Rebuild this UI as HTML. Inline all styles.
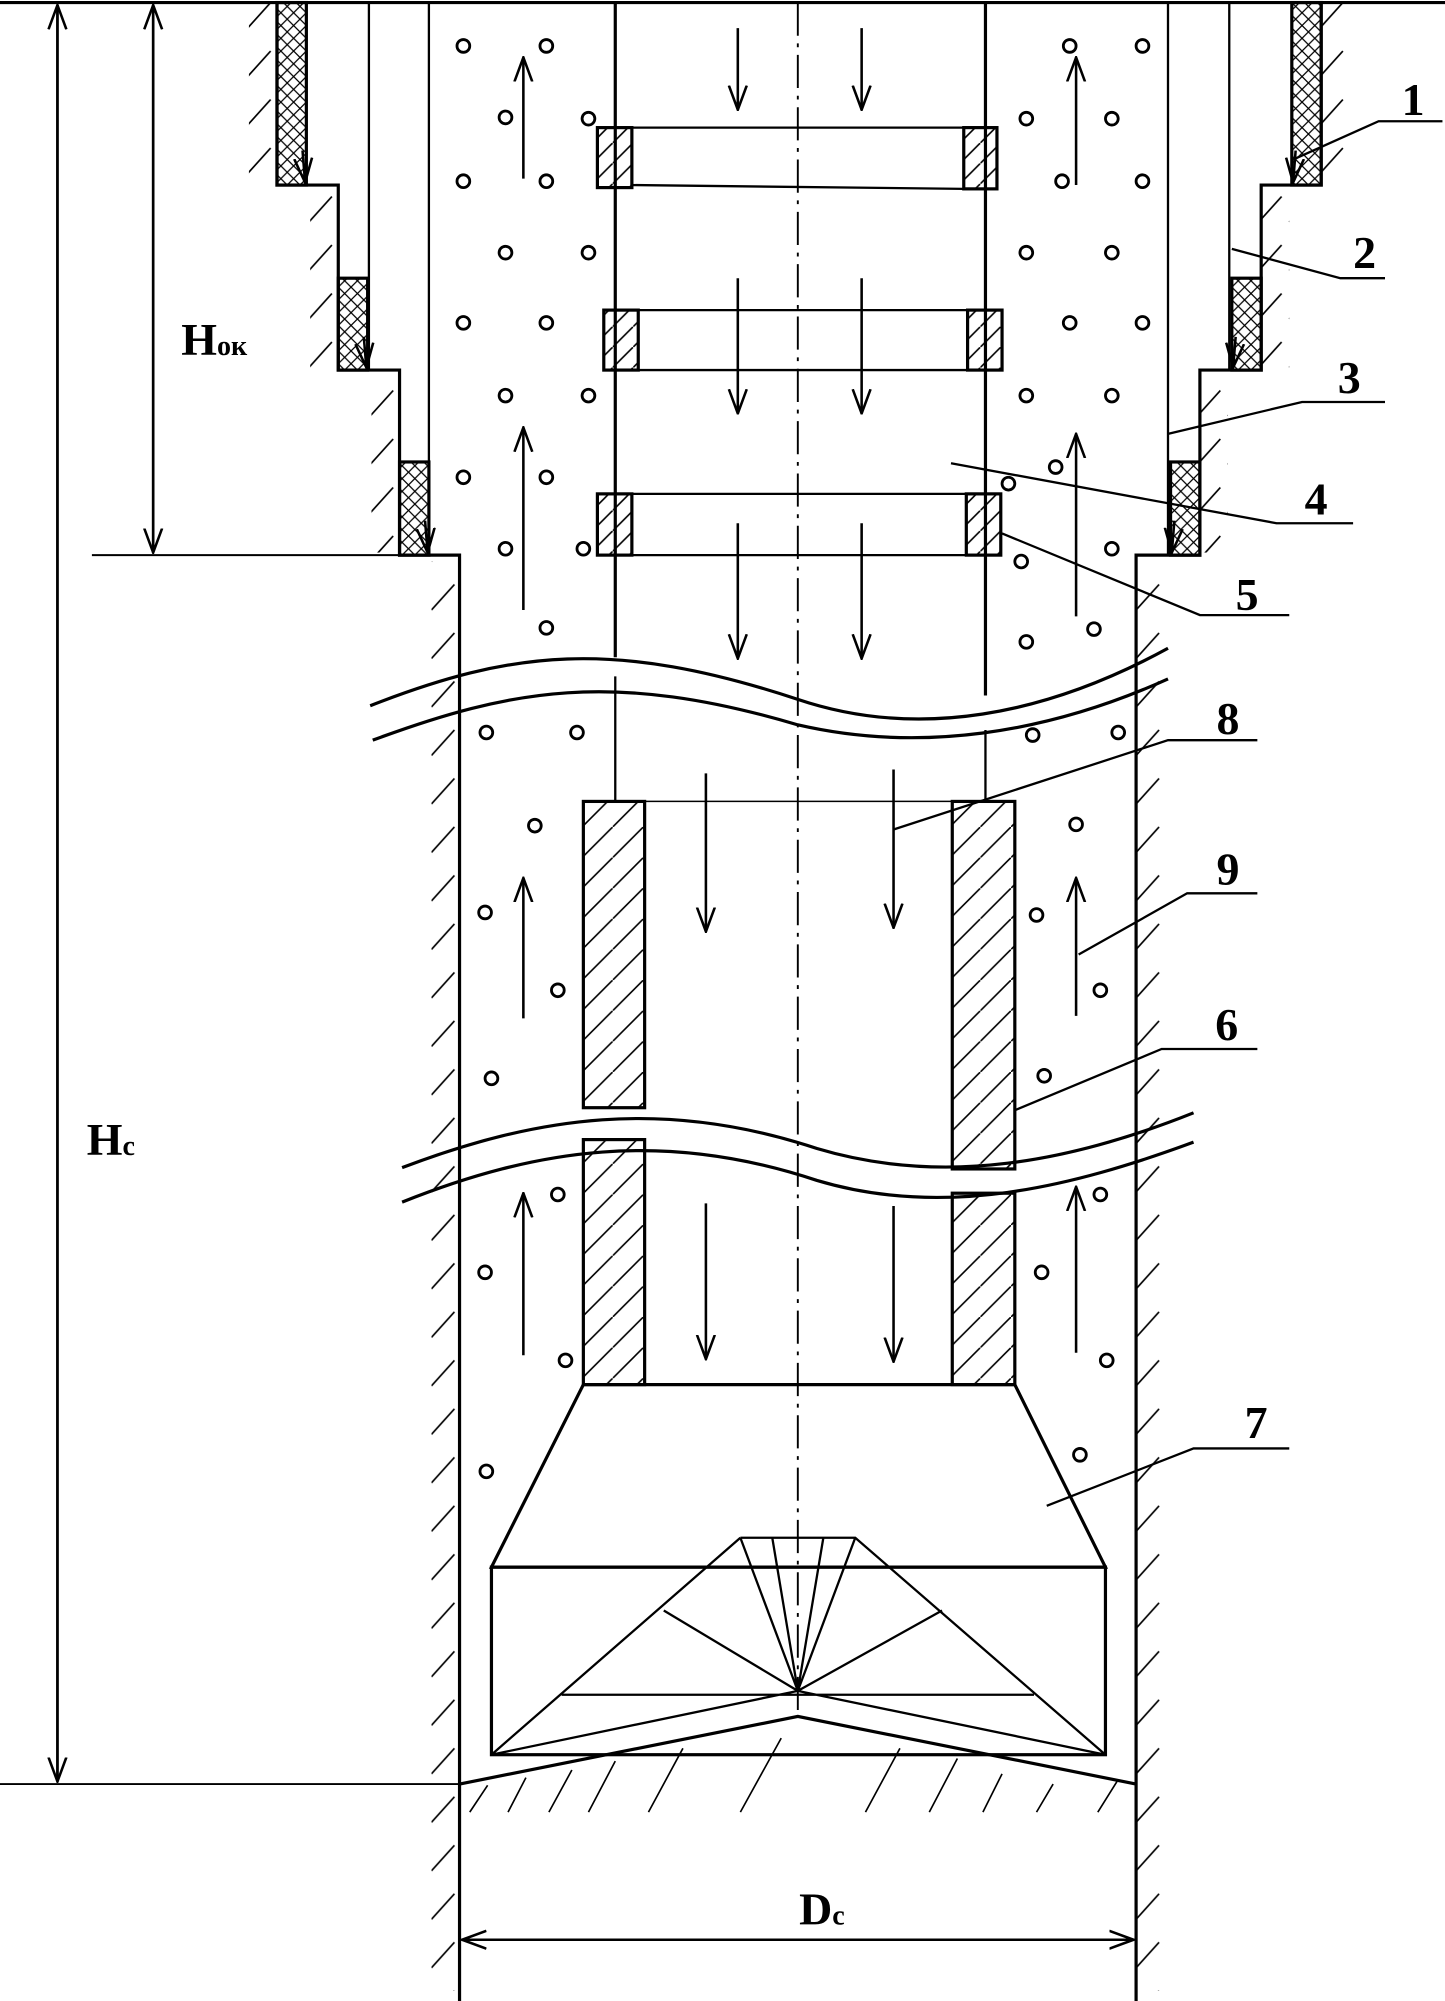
<!DOCTYPE html>
<html><head><meta charset="utf-8"><style>
html,body{margin:0;padding:0;background:#fff}
svg{display:block}
text{font-family:"Liberation Serif",serif;font-weight:bold;fill:#000}
</style></head><body>
<svg width="1445" height="2001" viewBox="0 0 1132 1568" preserveAspectRatio="none" xmlns="http://www.w3.org/2000/svg">
<defs>
<pattern id="h" patternUnits="userSpaceOnUse" width="16" height="16"><path d="M-2,18 L18,-2" stroke="#000" stroke-width="1.3"/></pattern>
<pattern id="hc" patternUnits="userSpaceOnUse" width="24" height="24"><path d="M-3,27 L27,-3" stroke="#000" stroke-width="1.3"/></pattern>
<pattern id="x" patternUnits="userSpaceOnUse" width="10" height="10"><path d="M0,10 L10,0 M0,0 L10,10" stroke="#000" stroke-width="1"/></pattern>
<pattern id="wl" patternUnits="userSpaceOnUse" width="24" height="38"><path d="M2,22 L20,2" stroke="#000" stroke-width="1.3"/></pattern>
<marker id="a" viewBox="0 0 20 20" refX="19" refY="10" markerWidth="20" markerHeight="20" orient="auto" markerUnits="userSpaceOnUse"><path d="M0,3 L19,10 L0,17" fill="none" stroke="#000" stroke-width="2"/></marker>
</defs>
<g fill="none" stroke="#000" stroke-width="2.5">
<line x1="0" y1="2" x2="1132" y2="2"/>
<rect x="338" y="440" width="22" height="1120" fill="url(#wl)" stroke="none"/>
<rect x="890" y="440" width="22" height="1120" fill="url(#wl)" stroke="none"/>
<rect x="195" y="2" width="22" height="140" fill="url(#wl)" stroke="none"/>
<rect x="243" y="150" width="22" height="138" fill="url(#wl)" stroke="none"/>
<rect x="291" y="295" width="22" height="138" fill="url(#wl)" stroke="none"/>
<rect x="1035" y="2" width="22" height="140" fill="url(#wl)" stroke="none"/>
<rect x="988" y="150" width="22" height="138" fill="url(#wl)" stroke="none"/>
<rect x="940" y="295" width="22" height="138" fill="url(#wl)" stroke="none"/>
<g stroke-width="1.3">
<path d="M368,1420 L382,1399 M398,1420 L412,1393 M430,1420 L448,1387 M461,1420 L482,1380 M508,1420 L535,1370 M580,1420 L612,1362 M678,1420 L705,1370 M728,1420 L750,1378 M770,1420 L785,1390 M812,1420 L825,1398 M860,1420 L875,1396"/>
</g>
<path d="M217,2 V145 H265 V290 H313 V435 H360 V1568"/>
<path d="M1035,2 V145 H988 V290 H940 V435 H890 V1568"/>
<rect x="217" y="2" width="23" height="143" fill="url(#x)"/>
<rect x="265" y="218" width="23" height="72" fill="url(#x)"/>
<rect x="313" y="362" width="23" height="73" fill="url(#x)"/>
<rect x="1012" y="2" width="23" height="143" fill="url(#x)"/>
<rect x="965" y="218" width="23" height="72" fill="url(#x)"/>
<rect x="917" y="362" width="23" height="73" fill="url(#x)"/>
<line x1="289" y1="2" x2="289" y2="290" stroke-width="1.8"/>
<line x1="336" y1="2" x2="336" y2="435" stroke-width="1.8"/>
<line x1="963" y1="2" x2="963" y2="290" stroke-width="1.8"/>
<line x1="915" y1="2" x2="915" y2="435" stroke-width="1.8"/>
<line x1="482" y1="2" x2="482" y2="515"/>
<line x1="772" y1="2" x2="772" y2="545"/>
<line x1="482" y1="530" x2="482" y2="628" stroke-width="1.8"/>
<line x1="772" y1="572" x2="772" y2="628" stroke-width="1.8"/>
<line x1="625" y1="2" x2="625" y2="1340" stroke-width="1.5" stroke-dasharray="26,6,3,6"/>
<line x1="495" y1="100" x2="755" y2="100" stroke-width="1.8"/><line x1="495" y1="145" x2="755" y2="148" stroke-width="1.8"/>
<rect x="468" y="100" width="27" height="47" fill="url(#h)"/><rect x="755" y="100" width="26" height="48" fill="url(#h)"/>
<line x1="500" y1="243" x2="758" y2="243" stroke-width="1.8"/><line x1="500" y1="290" x2="758" y2="290" stroke-width="1.8"/>
<rect x="473" y="243" width="27" height="47" fill="url(#h)"/><rect x="758" y="243" width="27" height="47" fill="url(#h)"/>
<line x1="495" y1="387" x2="757" y2="387" stroke-width="1.8"/><line x1="495" y1="435" x2="757" y2="435" stroke-width="1.8"/>
<rect x="468" y="387" width="27" height="48" fill="url(#h)"/><rect x="757" y="387" width="27" height="48" fill="url(#h)"/>
<line x1="505" y1="628" x2="746" y2="628" stroke-width="1.2"/>
<rect x="457" y="628" width="48" height="240" fill="url(#hc)"/>
<rect x="746" y="628" width="49" height="288" fill="url(#hc)"/>
<rect x="457" y="893" width="48" height="192" fill="url(#hc)"/>
<rect x="746" y="935" width="49" height="150" fill="url(#hc)"/>
<path d="M290,553 C400,510 480,500 625,548 C720,580 820,560 915,508"/>
<path d="M292,580 C400,540 480,525 625,568 C720,590 820,575 915,532"/>
<path d="M315,915 C420,875 520,860 640,900 C740,930 840,910 935,872"/>
<path d="M315,942 C420,900 520,885 640,925 C740,955 840,930 935,895"/>
<path d="M457,1085 H795 L866,1228 H385 Z"/>
<rect x="385" y="1228" width="481" height="147"/>
<path d="M580,1205 H670 L866,1375 M580,1205 L385,1375 M385,1375 L625,1325 L866,1375 M625,1325 L580,1205 M625,1325 L670,1205 M625,1325 L605,1205 M625,1325 L645,1205 M625,1325 L520,1262 M625,1325 L738,1262 M440,1328 H810" stroke-width="1.8"/>
<path d="M360,1398 L625,1345 L890,1398" />
<line x1="45" y1="4" x2="45" y2="1396" marker-end="url(#a)" stroke-width="2"/>
<line x1="45" y1="1396" x2="45" y2="4" marker-end="url(#a)" stroke-width="2"/>
<line x1="120" y1="4" x2="120" y2="433" marker-end="url(#a)" stroke-width="2"/>
<line x1="120" y1="433" x2="120" y2="4" marker-end="url(#a)" stroke-width="2"/>
<line x1="72" y1="435" x2="313" y2="435" stroke-width="1.5"/>
<line x1="0" y1="1398" x2="360" y2="1398" stroke-width="1.5"/>
<line x1="362" y1="1520" x2="888" y2="1520" marker-end="url(#a)" stroke-width="2"/>
<line x1="888" y1="1520" x2="362" y2="1520" marker-end="url(#a)" stroke-width="2"/>
<g stroke-width="2">
<line x1="410" y1="140" x2="410" y2="45" marker-end="url(#a)"/>
<line x1="410" y1="478" x2="410" y2="335" marker-end="url(#a)"/>
<line x1="843" y1="145" x2="843" y2="45" marker-end="url(#a)"/>
<line x1="843" y1="483" x2="843" y2="340" marker-end="url(#a)"/>
<line x1="578" y1="22" x2="578" y2="86" marker-end="url(#a)"/>
<line x1="675" y1="22" x2="675" y2="86" marker-end="url(#a)"/>
<line x1="578" y1="218" x2="578" y2="324" marker-end="url(#a)"/>
<line x1="675" y1="218" x2="675" y2="324" marker-end="url(#a)"/>
<line x1="578" y1="410" x2="578" y2="516" marker-end="url(#a)"/>
<line x1="675" y1="410" x2="675" y2="516" marker-end="url(#a)"/>
<line x1="553" y1="606" x2="553" y2="730" marker-end="url(#a)"/>
<line x1="700" y1="603" x2="700" y2="727" marker-end="url(#a)"/>
<line x1="553" y1="943" x2="553" y2="1065" marker-end="url(#a)"/>
<line x1="700" y1="945" x2="700" y2="1067" marker-end="url(#a)"/>
<line x1="410" y1="798" x2="410" y2="688" marker-end="url(#a)"/>
<line x1="843" y1="796" x2="843" y2="688" marker-end="url(#a)"/>
<line x1="410" y1="1062" x2="410" y2="935" marker-end="url(#a)"/>
<line x1="843" y1="1060" x2="843" y2="930" marker-end="url(#a)"/>
<line x1="237" y1="118" x2="239" y2="143" marker-end="url(#a)"/>
<line x1="285" y1="264" x2="287" y2="288" marker-end="url(#a)"/>
<line x1="333" y1="408" x2="335" y2="433" marker-end="url(#a)"/>
<line x1="1015" y1="118" x2="1013" y2="143" marker-end="url(#a)"/>
<line x1="968" y1="264" x2="966" y2="288" marker-end="url(#a)"/>
<line x1="920" y1="408" x2="918" y2="433" marker-end="url(#a)"/>
</g>
<g stroke-width="1.8">
<path d="M1013,125 L1080,95 H1130"/>
<path d="M965,195 L1050,218 H1085"/>
<path d="M915,340 L1020,315 H1085"/>
<path d="M745,363 L1000,410 H1060"/>
<path d="M785,418 L940,482 H1010"/>
<path d="M700,650 L915,580 H985"/>
<path d="M845,748 L930,700 H985"/>
<path d="M795,870 L910,822 H985"/>
<path d="M820,1180 L935,1135 H1010"/>
</g>
<g stroke-width="2.2">
<circle cx="363" cy="36" r="5"/><circle cx="428" cy="36" r="5"/><circle cx="396" cy="92" r="5"/><circle cx="461" cy="93" r="5"/>
<circle cx="363" cy="142" r="5"/><circle cx="428" cy="142" r="5"/><circle cx="396" cy="198" r="5"/><circle cx="461" cy="198" r="5"/>
<circle cx="363" cy="253" r="5"/><circle cx="428" cy="253" r="5"/><circle cx="396" cy="310" r="5"/><circle cx="461" cy="310" r="5"/>
<circle cx="363" cy="374" r="5"/><circle cx="428" cy="374" r="5"/><circle cx="396" cy="430" r="5"/><circle cx="457" cy="430" r="5"/>
<circle cx="428" cy="492" r="5"/>
<circle cx="838" cy="36" r="5"/><circle cx="895" cy="36" r="5"/><circle cx="804" cy="93" r="5"/><circle cx="871" cy="93" r="5"/>
<circle cx="832" cy="142" r="5"/><circle cx="895" cy="142" r="5"/><circle cx="804" cy="198" r="5"/><circle cx="871" cy="198" r="5"/>
<circle cx="838" cy="253" r="5"/><circle cx="895" cy="253" r="5"/><circle cx="804" cy="310" r="5"/><circle cx="871" cy="310" r="5"/>
<circle cx="790" cy="379" r="5"/><circle cx="827" cy="366" r="5"/><circle cx="871" cy="430" r="5"/><circle cx="800" cy="440" r="5"/>
<circle cx="804" cy="503" r="5"/><circle cx="857" cy="493" r="5"/>
<circle cx="381" cy="574" r="5"/><circle cx="452" cy="574" r="5"/><circle cx="809" cy="576" r="5"/><circle cx="876" cy="574" r="5"/>
<circle cx="419" cy="647" r="5"/><circle cx="380" cy="715" r="5"/><circle cx="437" cy="776" r="5"/><circle cx="385" cy="845" r="5"/>
<circle cx="843" cy="646" r="5"/><circle cx="812" cy="717" r="5"/><circle cx="862" cy="776" r="5"/><circle cx="818" cy="843" r="5"/>
<circle cx="437" cy="936" r="5"/><circle cx="380" cy="997" r="5"/><circle cx="443" cy="1066" r="5"/><circle cx="381" cy="1153" r="5"/>
<circle cx="862" cy="936" r="5"/><circle cx="816" cy="997" r="5"/><circle cx="867" cy="1066" r="5"/><circle cx="846" cy="1140" r="5"/>
</g>
</g>
<g font-size="36">
<text x="1098" y="90">1</text>
<text x="1060" y="210">2</text>
<text x="1048" y="308">3</text>
<text x="1022" y="403">4</text>
<text x="968" y="478">5</text>
<text x="952" y="815">6</text>
<text x="975" y="1127">7</text>
<text x="953" y="575">8</text>
<text x="953" y="693">9</text>
<text x="142" y="278">H<tspan font-size="22">ок</tspan></text>
<text x="68" y="905">H<tspan font-size="22">с</tspan></text>
<text x="626" y="1508">D<tspan font-size="22">с</tspan></text>
</g>
</svg>
</body></html>
